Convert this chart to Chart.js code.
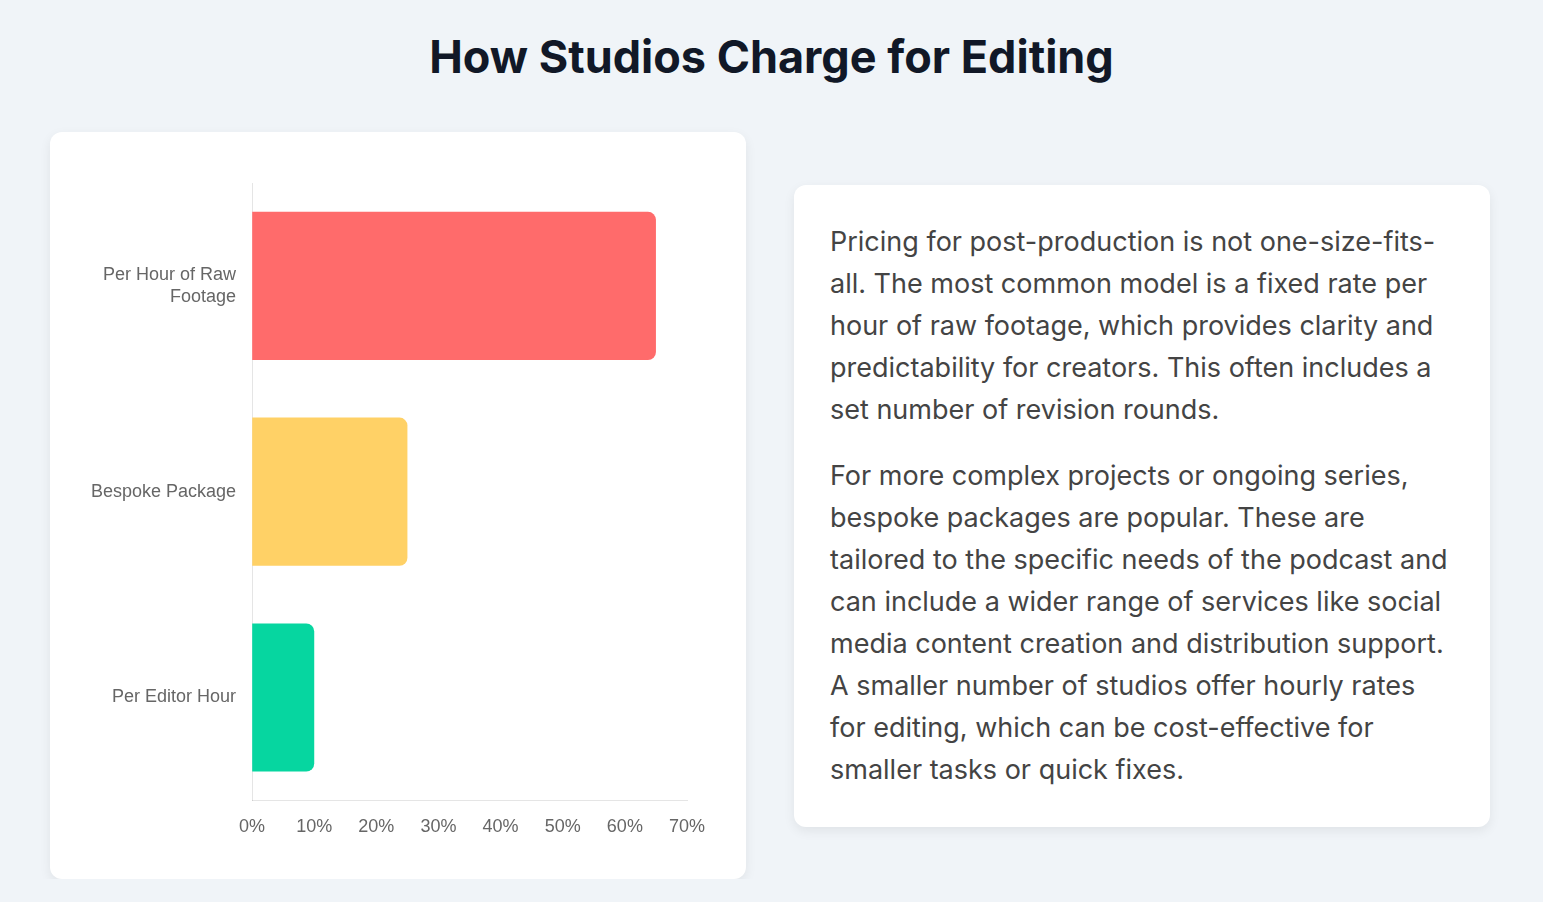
<!DOCTYPE html>
<html>
<head>
<meta charset="utf-8">
<script src="https://cdn.jsdelivr.net/npm/chart.js@4"></script>
<style>
	body {
		margin: 0;
		background: #f0f4f8;
		font-family: Inter, "Noto Sans", sans-serif;
	}
	h1 {
		margin: 0;
		padding-top: 30px;
		height: 100px;
		box-sizing: border-box;
		text-align: center;
		font-size: 45px;
		font-weight: 700;
		line-height: 54px;
		color: #111827;
	}
	.wrap {
		width: 1440px;
		margin: 32px 0 0 50px;
		display: grid;
		grid-template-columns: 696px 696px;
		column-gap: 48px;
		align-items: center;
	}
	.card {
		background: #fff;
		border-radius: 12px;
		box-shadow: 0 4px 12px rgba(0, 0, 0, 0.07);
	}
	.chart-card {
		padding: 24px;
		height: 747px;
		box-sizing: border-box;
	}
	.chart-box {
		position: relative;
		height: 699px;
	}
	.text-card {
		padding: 36px;
		font-size: 27px;
		line-height: 42px;
		color: #444;
	}
	.text-card p { margin: 0 0 24px; }
	.text-card p:last-child { margin: 0; }
</style>
</head>
<body>
<h1>How Studios Charge for Editing</h1>
<div class="wrap">
	<div class="card chart-card">
		<div class="chart-box"><canvas id="pricing"></canvas></div>
	</div>
	<div class="card text-card">
		<p>Pricing for post-production is not one-size-fits-all. The most common model is a fixed rate per hour of raw footage, which provides clarity and predictability for creators. This often includes a set number of revision rounds.</p>
		<p>For more complex projects or ongoing series, bespoke packages are popular. These are tailored to the specific needs of the podcast and can include a wider range of services like social media content creation and distribution support. A smaller number of studios offer hourly rates for editing, which can be cost-effective for smaller tasks or quick fixes.</p>
	</div>
</div>
<script>
// pricing models and share of studios using them (%)
const models = [['Per Hour of Raw', 'Footage'], 'Bespoke Package', 'Per Editor Hour'];
const shares = [65, 25, 10];
const barColors = ['#FF6B6B', '#FFD166', '#06D6A0'];

Chart.defaults.font.size = 18;
Chart.defaults.color = '#666';

new Chart(document.getElementById('pricing'), {
	type: 'bar',
	data: {
		labels: models,
		datasets: [{
			label: 'Share of studios',
			data: shares,
			backgroundColor: barColors,
			borderRadius: 8
		}]
	},
	options: {
		indexAxis: 'y',
		responsive: true,
		maintainAspectRatio: false,
		layout: {
			padding: { left: 9, right: 35, top: 27, bottom: 9 }
		},
		plugins: {
			legend: { display: false },
			tooltip: {
				callbacks: {
					label: ctx => ctx.parsed.x + '%'
				}
			}
		},
		scales: {
			x: {
				beginAtZero: true,
				max: 70,
				grid: { display: false },
				ticks: {
					stepSize: 10,
					padding: 8,
					callback: v => v + '%'
				}
			},
			y: {
				grid: { display: false },
				ticks: { padding: 8 }
			}
		}
	}
});
</script>
</body>
</html>
